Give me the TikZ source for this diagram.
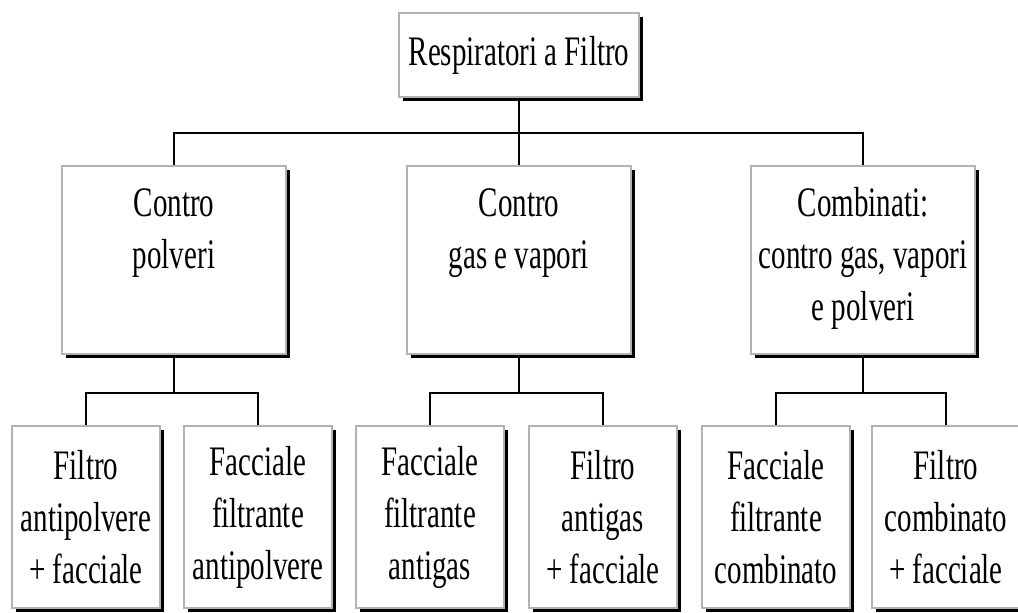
\documentclass[tikz,border=0pt]{standalone}
\usepackage{fontspec}
\setmainfont{Liberation Serif}[FakeStretch=0.69]

% text hanging from the top of the tall boxes
\newcommand{\hangtext}[1]{\parbox[c][94pt][t]{112pt}{\centering\vspace*{7pt}\strut #1}}

\begin{document}
\begin{tikzpicture}[x=0.5pt, y=-0.5pt,
        box/.style={draw=gray!60, line width=0.6pt, fill=white,
            preaction={fill=black, transform canvas={xshift=1.8pt, yshift=-1.8pt}},
            font=\fontsize{21}{26}\selectfont},
        rootbox/.style={box, minimum width=120pt, minimum height=42pt, inner sep=0pt},
        groupbox/.style={box, inner sep=0pt},
        leafbox/.style={box, minimum width=74pt, minimum height=91pt, inner sep=0pt, align=center},
        link/.style={line width=0.9pt}]
        \useasboundingbox (0, 0) rectangle (1018, 612);

        % Draw the root
        \node[rootbox] (resp) at (519, 55) {Respiratori a Filtro};

        % Draw the three groups
        \node[groupbox] (polv) at (174, 260) {\hangtext{Contro\\polveri}};
        \node[groupbox] (gas) at (519, 260) {\hangtext{Contro\\gas e vapori}};
        \node[groupbox] (comb) at (863, 260) {\hangtext{Combinati:\\contro gas, vapori\\e polveri}};

        % Draw the six kinds
        \node[leafbox] (filpolv) at (86, 517) {Filtro\\antipolvere\\+ facciale};
        \node[leafbox] (facpolv) at (258, 517) {Facciale\\filtrante\\antipolvere};
        \node[leafbox] (facgas) at (430, 517) {Facciale\\filtrante\\antigas};
        \node[leafbox] (filgas) at (603, 517) {Filtro\\antigas\\+ facciale};
        \node[leafbox] (faccomb) at (776, 517) {Facciale\\filtrante\\combinato};
        \node[leafbox] (filcomb) at (946, 517) {Filtro\\combinato\\+ facciale};

        % Draw the links from the root
        \draw[link] (resp.south) -- ++(0, 35) -| (polv.north);
        \draw[link] (resp.south) -- ++(0, 35) -| (comb.north);
        \draw[link] (resp.south) -- (gas.north);

        % Draw the links from the groups
        \draw[link] (polv.south) -- ++(0, 38) -| (filpolv.north);
        \draw[link] (polv.south) -- ++(0, 38) -| (facpolv.north);
        \draw[link] (gas.south) -- ++(0, 38) -| (facgas.north);
        \draw[link] (gas.south) -- ++(0, 38) -| (filgas.north);
        \draw[link] (comb.south) -- ++(0, 38) -| (faccomb.north);
        \draw[link] (comb.south) -- ++(0, 38) -| (filcomb.north);
\end{tikzpicture}
\end{document}
